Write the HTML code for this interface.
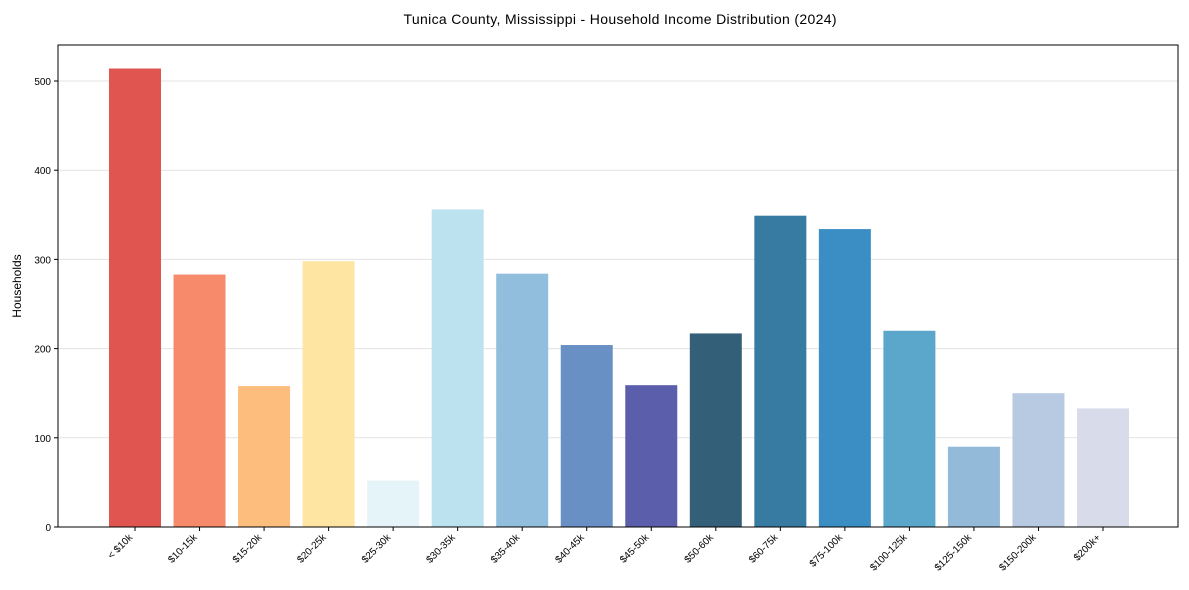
<!DOCTYPE html>
<html><head><meta charset="utf-8"><style>
html,body{margin:0;padding:0;background:#fff}
svg{display:block;font-family:"Liberation Sans",sans-serif}
</style></head><body>
<svg id="chart" width="1189" height="590">
<text x="620" y="24" font-size="14" text-anchor="middle" textLength="433">Tunica County, Mississippi - Household Income Distribution (2024)</text>
<text x="21" y="286" font-size="12" text-anchor="middle" transform="rotate(-90 21 286)">Households</text>
<g id="grid"></g><g id="bars"></g><g id="yaxis"></g><g id="xaxis"></g>
<rect x="58" y="45" width="1120" height="482" fill="none" stroke="#000" stroke-width="1"/>
</svg>
<script>
const categories=["< $10k","$10-15k","$15-20k","$20-25k","$25-30k","$30-35k","$35-40k","$40-45k","$45-50k","$50-60k","$60-75k","$75-100k","$100-125k","$125-150k","$150-200k","$200k+"];
const households=[514,283,158,298,52,356,284,204,159,217,349,334,220,90,150,133];
const yTicks=[0,100,200,300,400,500];
const colors=["#e0554f","#f68a6b","#fdbe7d","#fee6a2","#e4f4f8","#bde2ef","#91bedc","#6890c4","#5b5eab","#336078","#377ba3","#3a8ec4","#5ba6cb","#93bad9","#b7cae2","#d8dbea"];
const NS="http://www.w3.org/2000/svg";
const L=58,R=1178,T=45,B=527;
const y=v=>B-v*(B-81)/500;
const x0=135,step=(1103-135)/15,bw=52;
const x=i=>x0+i*step;
function mk(tag,at,p){const e=document.createElementNS(NS,tag);for(const k in at)e.setAttribute(k,at[k]);p.appendChild(e);return e;}
const g=document.getElementById('grid'),b=document.getElementById('bars'),ya=document.getElementById('yaxis'),xa=document.getElementById('xaxis');
yTicks.forEach(t=>{
 if(t>0){const l=mk('line',{x1:L,x2:R,y1:y(t),y2:y(t),stroke:'#e3e3e3','stroke-width':1},g);
 
 }
 const tk=mk('line',{x1:L-4,x2:L,y1:y(t),y2:y(t),stroke:'#000'},ya);
 
 
 const tx=mk('text',{x:L-7,y:y(t)+4,'font-size':10,'text-anchor':'end'},ya);
 tx.textContent=t;
 
 
});
categories.forEach((c,i)=>{
 const v=households[i];
 const r=mk('rect',{x:x(i)-bw/2,y:y(v),width:bw,height:B-y(v),fill:colors[i]},b);
 
 
 const tk=mk('line',{x1:x(i),x2:x(i),y1:B,y2:B+4,stroke:'#000'},xa);
 
 
 const tx=mk('text',{x:x(i)-2,y:B+11,'font-size':10,'text-anchor':'end',transform:`rotate(-45 ${x(i)-2} ${B+11})`},xa);
 tx.textContent=c;
 
 
});
</script>
</body></html>
